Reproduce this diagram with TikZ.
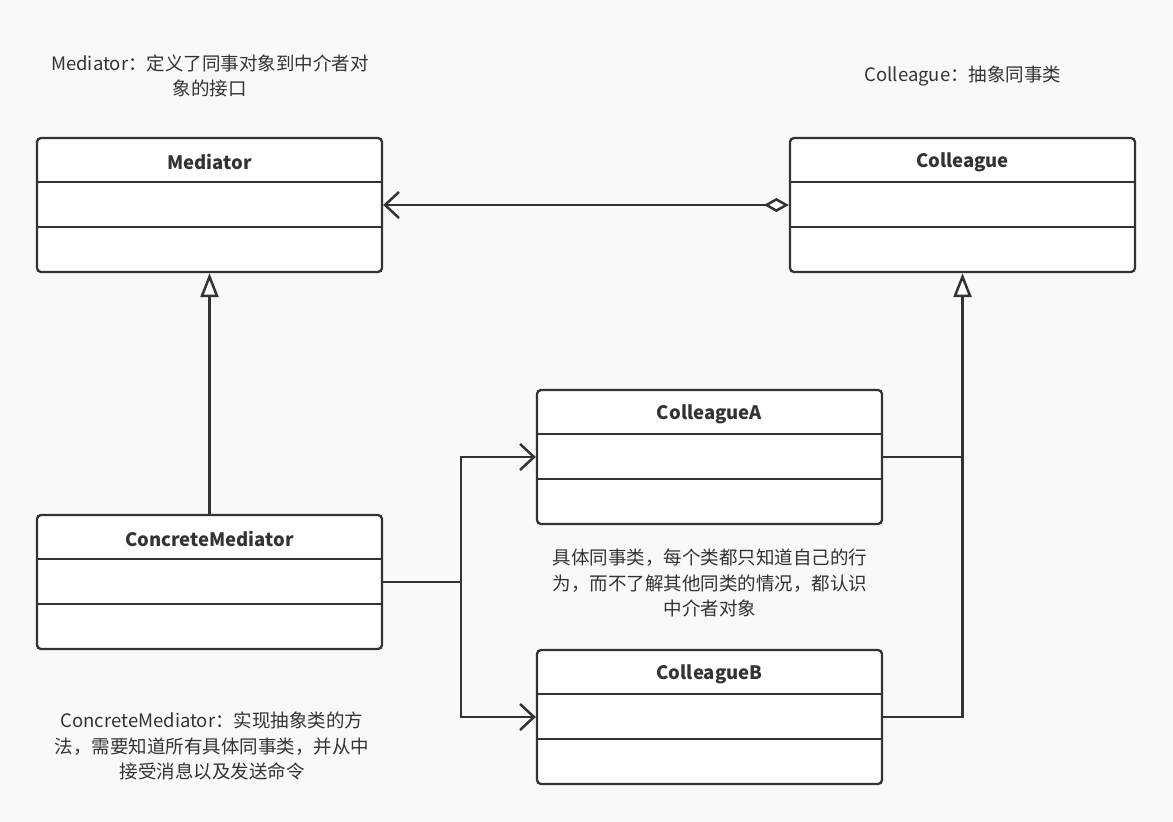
\documentclass[tikz,border=0pt]{standalone}
\usepackage{fontspec}
\setmainfont{Noto Sans CJK SC}
\usetikzlibrary{arrows.meta}
\definecolor{lc}{HTML}{333333}
\definecolor{bg}{HTML}{F9F9F9}
\definecolor{tc}{HTML}{333333}
\tikzset{
  cls/.style={draw=lc, line width=2.3pt, fill=white, rounded corners=4pt,
    minimum width=345pt, minimum height=134pt, inner sep=0pt},
  ctitle/.style={text=tc, font=\fontsize{18.5pt}{24pt}\selectfont\bfseries, inner sep=0pt},
  cdiv/.style={draw=lc, line width=2.3pt},
  note/.style={text=tc, font=\fontsize{18.5pt}{25.5pt}\selectfont, align=center, inner sep=0pt},
  conn/.style={draw=lc, line width=2.5pt},
  gen/.style={conn, -{Triangle[open, length=24pt, width=18pt, fill=white]}},
  assoc/.style={conn, -{Straight Barb[length=14pt, width=26pt]}},
  aggr/.style={conn, {Diamond[open, length=25pt, width=14pt, fill=white]}-{Straight Barb[length=14pt, width=26pt]}},
}
\newcommand\umlcls[3]{%
  \node[cls] (#1) at (#2) {};
  \node[ctitle] (#1-t) at ([yshift=-25.5pt]#1.north) {#3};
  \draw[cdiv] ([yshift=-45pt]#1.north west) -- ([yshift=-45pt]#1.north east);
  \draw[cdiv] ([yshift=-90pt]#1.north west) -- ([yshift=-90pt]#1.north east);
}
\begin{document}
\begin{tikzpicture}[x=1pt, y=-1pt]
\fill[bg] (0,0) rectangle (1173,822);
\useasboundingbox (0,0) rectangle (1173,822);

\umlcls{med}{209.5,205}{Mediator}
\umlcls{col}{962.5,205}{Colleague}
\umlcls{ca}{709.5,457}{ColleagueA}
\umlcls{cm}{209.5,582}{ConcreteMediator}
\umlcls{cb}{709.5,717}{ColleagueB}

\node[note] (n1) at (210,76) {Mediator：定义了同事对象到中介者对\\象的接口};
\node[note] (n2) at (963,76) {Colleague：抽象同事类};
\node[note] (n3) at (710,583) {具体同事类，每个类都只知道自己的行\\为，而不了解其他同类的情况，都认识\\中介者对象};
\node[note] (n4) at (212,746) {ConcreteMediator：实现抽象类的方\\法，需要知道所有具体同事类，并从中\\接受消息以及发送命令};

\draw[aggr] (col.west) -- (med.east);
\draw[gen] (cm.north) -- (med.south);

\coordinate (jR) at (col.south |- ca.east);
\draw[conn] (cb.east) -| (jR);
\draw[gen] (ca.east) -| (col.south);

\coordinate (jL) at ([xshift=78pt]cm.east);
\draw[conn] (cm.east) -- (jL);
\draw[assoc] (jL) |- (ca.west);
\draw[assoc] (jL) |- (cb.west);
\end{tikzpicture}
\end{document}
